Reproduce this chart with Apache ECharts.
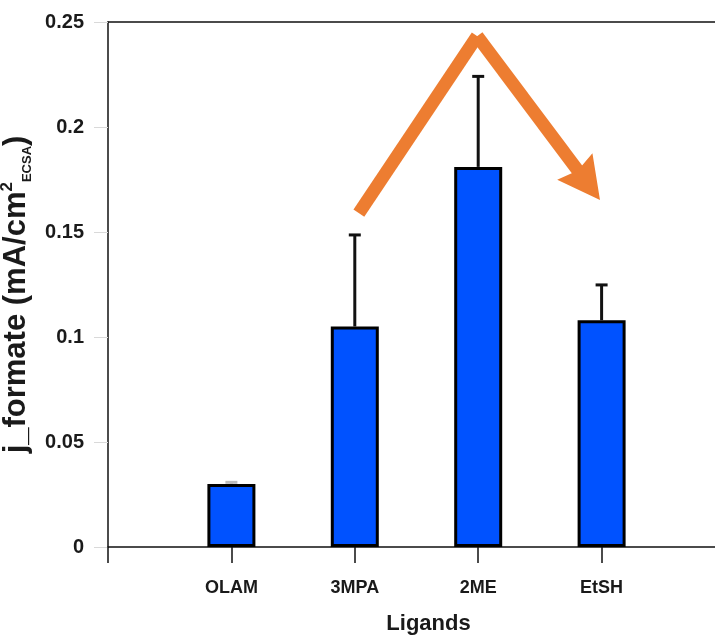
<!DOCTYPE html>
<html>
<head>
<meta charset="utf-8">
<script src="https://cdn.jsdelivr.net/npm/echarts@6/dist/echarts.min.js"></script>
<style>
  html, body { margin: 0; padding: 0; background: #fff; }
  #chart { width: 715px; height: 635px; }
</style>
</head>
<body>
<div id="chart"></div>
<script>
// values
var ligands = ['OLAM', '3MPA', '2ME', 'EtSH'];
var jFormate = [0.030, 0.105, 0.181, 0.108];
var errPlus = [0.0008, 0.0436, 0.0431, 0.0168];
// orange trend arrow: start, apex, arrow tip (x in category units, y in mA/cm2)
var arrowPath = [[2.033, 0.159], [2.992, 0.2433], [3.987, 0.1652]];

var font = "'Liberation Sans', Arial, Helvetica, sans-serif";
var ink = '#1a1a1a';
var orange = '#ed7d31';

var barData = [];
var errData = [];
for (var i = 0; i < ligands.length; i++) {
	barData.push([i + 1, jFormate[i]]);
	errData.push([i + 1, jFormate[i] + errPlus[i], jFormate[i]]);
}

function renderError(params, api) {
	var x = api.value(0);
	var hi = api.coord([x, api.value(1)]);
	var lo = api.coord([x, api.value(2)]);
	// a near-zero error shows only as a faint cap
	var col = (lo[1] - hi[1]) < 3 ? '#bbb' : '#111';
	return {
		type: 'group',
		children: [
			{ type: 'line', shape: { x1: lo[0], y1: lo[1], x2: hi[0], y2: hi[1] }, style: { stroke: col, lineWidth: 3 } },
			{ type: 'line', shape: { x1: hi[0] - 6, y1: hi[1], x2: hi[0] + 6, y2: hi[1] }, style: { stroke: col, lineWidth: 3 } }
		]
	};
}

// the arrow: two thick strokes and a filled head at the last point
function renderArrow(params, api) {
	var a = api.coord([api.value(0), api.value(1)]);
	var b = api.coord([api.value(2), api.value(3)]);
	var c = api.coord([api.value(4), api.value(5)]);
	var dx = c[0] - b[0], dy = c[1] - b[1];
	var len = Math.sqrt(dx * dx + dy * dy);
	var ux = dx / len, uy = dy / len;
	var nx = -uy, ny = ux;
	var headLen = 42, headHalf = 22;
	var base = [c[0] - ux * headLen, c[1] - uy * headLen];
	var notch = [c[0] - ux * (headLen - 5), c[1] - uy * (headLen - 5)];
	var lineEnd = [c[0] - ux * (headLen - 8), c[1] - uy * (headLen - 8)];
	var stroke = { stroke: orange, lineWidth: 13, lineCap: 'butt', fill: null };
	return {
		type: 'group',
		children: [
			{ type: 'line', shape: { x1: a[0], y1: a[1], x2: b[0], y2: b[1] }, style: stroke },
			{ type: 'line', shape: { x1: b[0], y1: b[1], x2: lineEnd[0], y2: lineEnd[1] }, style: stroke },
			{ type: 'polygon', shape: { points: [
				[c[0], c[1]],
				[base[0] + nx * headHalf, base[1] + ny * headHalf],
				notch,
				[base[0] - nx * headHalf, base[1] - ny * headHalf]
			] }, style: { fill: orange } }
		]
	};
}

var myChart = echarts.init(document.getElementById('chart'));
var option = {
	animation: false,
	grid: { left: 108, right: -10, top: 22, bottom: 88, containLabel: false, outerBoundsMode: 'none' },
	xAxis: [{
		type: 'value',
		min: 0, max: 5, interval: 1,
		name: 'Ligands',
		nameLocation: 'middle',
		nameGap: 66,
		nameTextStyle: { fontFamily: font, fontWeight: 'bold', fontSize: 22, color: ink, padding: [0, 0, 0, 24] },
		axisLine: { lineStyle: { color: '#111', width: 1.5 } },
		axisTick: { length: 16, lineStyle: { color: '#111', width: 1.5 } },
		axisLabel: {
			margin: 32,
			fontFamily: font, fontWeight: 'bold', fontSize: 18, color: ink,
			formatter: function(v) { return ligands[v - 1] || ''; }
		},
		splitLine: { show: false }
	}, {
		type: 'value',
		position: 'top',
		min: 0, max: 5,
		axisLine: { show: true, lineStyle: { color: '#111', width: 1.5 } },
		axisTick: { show: false },
		axisLabel: { show: false },
		splitLine: { show: false }
	}],
	yAxis: {
		type: 'value',
		min: 0, max: 0.25, interval: 0.05,
		name: 'j_formate (mA/cm{sup|2}{sub|ECSA})',
		nameLocation: 'middle',
		nameGap: 62,
		nameTextStyle: {
			fontFamily: font, fontWeight: 'bold', fontSize: 31, color: ink,
			padding: [0, 20, 0, 0],
			rich: {
				sup: { fontFamily: font, fontWeight: 'bold', fontSize: 17, color: ink, verticalAlign: 'top', lineHeight: 35 },
				sub: { fontFamily: font, fontWeight: 'bold', fontSize: 13, color: ink, verticalAlign: 'bottom', lineHeight: 35 }
			}
		},
		axisLine: { show: true, lineStyle: { color: '#111', width: 1.5 } },
		axisTick: { show: true, length: 14, lineStyle: { color: '#d9d9d9', width: 1 } },
		axisLabel: { margin: 24, fontFamily: font, fontWeight: 'bold', fontSize: 20, color: ink },
		splitLine: { show: false }
	},
	series: [{
		type: 'bar',
		data: barData,
		barWidth: 48,
		itemStyle: { color: '#0052ff', borderColor: '#000', borderWidth: 3 },
		silent: true
	}, {
		type: 'custom',
		data: errData,
		renderItem: renderError,
		silent: true,
		z: 3
	}, {
		type: 'custom',
		data: [[arrowPath[0][0], arrowPath[0][1], arrowPath[1][0], arrowPath[1][1], arrowPath[2][0], arrowPath[2][1]]],
		renderItem: renderArrow,
		silent: true,
		clip: false,
		z: 4
	}]
};
myChart.setOption(option, true);
</script>
</body>
</html>
